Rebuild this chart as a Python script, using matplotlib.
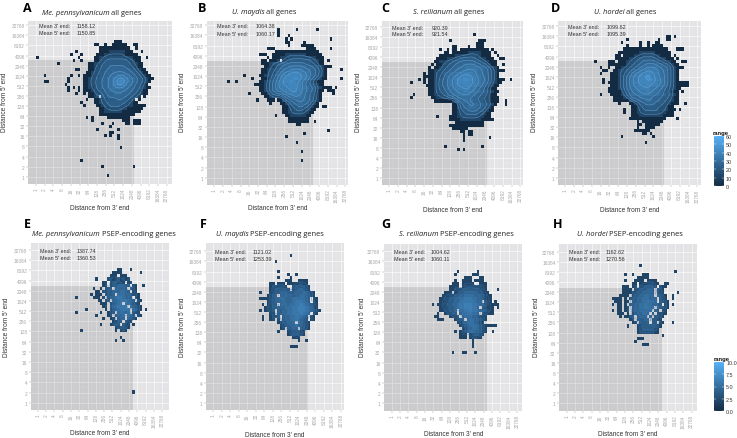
import numpy as np
import matplotlib
matplotlib.use('Agg')
import matplotlib.pyplot as plt
from matplotlib.colors import LinearSegmentedColormap, Normalize
from matplotlib.cm import ScalarMappable

W, H = 737, 439
BIN = 0.3   # width of one 2d bin, in log2 units
FILL = 0.72  # share of the colour range that the top digit reaches
GAMMA = 0.6

letters = ['A', 'B', 'C', 'D', 'E', 'F', 'G', 'H']
species = ['Me. pennsylvanicum', 'U. maydis', 'S. reilianum', 'U. hordei',
           'Me. pennsylvanicum', 'U. maydis', 'S. reilianum', 'U. hordei']
kinds = ['all genes'] * 4 + ['PSEP-encoding genes'] * 4
mean3 = ['1158.12', '1064.38', '920.39', '1099.62', '1387.74', '1121.02', '1004.62', '1162.62']
mean5 = ['1150.85', '1060.17', '921.54', '1095.39', '1360.53', '1253.39', '1060.11', '1270.56']
tick_labels = [str(2 ** i) for i in range(16)]

# shaded corner limits, log2 units
shade_x = [11.26, 11.26, 11.23, 11.2, 11.5, 11.16, 11.4, 11.4]
shade_y = [11.55, 11.5, 11.47, 11.53, 11.5, 11.5, 11.5, 11.44]

# Binned counts, one string per row from the top; digit = level in the colour range,
# '.' = empty bin. Each panel has a first column and a top row.
a_left, a_top = 18, 44
a_rows = [
    "............000",
    "....00..0..000000..00",
    "......000000000000..0",
    "......0000111111000...0",
    ".....0001111111100000",
    "....001122222222211000..0",
    "....001223333333322100",
    "..001122333333333322100",
    "..001223334444443322100",
    "..0012233444444444332100",
    ".001223344455555444332100",
    ".0012233445556665544332100",
    "001223344556778776554332100",
    "00122334455678987655433210",
    "0012233445567887655433210",
    "00112334455666665544332100",
    ".001223344555555544332100",
    "..00122334445554443322100",
    "..0012.334444444433221.0",
    "....0012233334433221.0",
    "....00122333333322100",
    ".....0012233332221100000",
    "......00112222211000000",
    "......0011111110000000",
    "......00000000000000",
    "..........00000000",
    "...............000.000",
    "................00.000",
]
a_stray_col = [0, 8, 3, 3, 4, 11, 12, 12, 13, 15, 17, 14, 17, 16, 15, 16, 13, 12, 12, 16, 18,
               14, 16, 16, 18, 15, 18, 17, 18, 19, 19, 21, 21, 25, 27, 29, 28, 23, 26, 28, 29,
               28, 31, 31, 31, 32, 17, 25, 37, 27]
a_stray_row = [39, 37, 33, 31, 31, 30, 29, 28, 40, 41, 40, 38, 38, 39, 35, 35, 33, 32, 31, 33, 33,
               29, 29, 28, 28, 27, 27, 24, 23, 25, 19, 19, 18, 17, 19, 17, 16, 15, 13, 13, 14,
               14, 13, 12, 15, 9, 5, 3, 3, 0]

b_left, b_top = 15, 44
b_rows = [
    "............00.....0",
    ".............0....00000",
    ".....000............0000.....0",
    "........00000000000000000",
    "..000..0000011111111000000",
    ".....0.00011122222222211000",
    "...00.0001.1223333333322100.0",
    "...000122334444444433322100",
    "....00112334455555554443321000",
    "...0012233455566666555443210.....0",
    "...0012234566778877665443210",
    "..00122345677888887765443210",
    "...0012345678889987765432100.....0",
    "..0012345678889877654321000",
    "000012345677788877654432100",
    "..0012345667778877665443210000.0",
    "..0012345566777877655443100.000",
    "...00123344566777665433210....0",
    "....0012222345566655443210",
    ".0...000.00233445555443210",
    "......0...001334455443210",
    "...........00123344332100.00",
    "...........0012233322100",
    "...........001122221100",
    "........0...0011111100",
    ".............00000000",
    ".............00000000..0",
    "................00",
]
b_stray_col = [31, 39, 24, 24, 24, 28, 27, 29, 44, 43, 34, 27, 31, 33, 33, 5, 8, 11, 14, 13]
b_stray_row = [48, 48, 48, 47, 46, 46, 45, 45, 45, 15, 14, 13, 11, 8, 5, 31, 31, 33, 32, 27]

c_left, c_top = 15, 45
c_rows = [
    "........0..........000",
    "..................000",
    ".........00....0..000",
    "....0..0.00.00000000000.0",
    "......00.000000111110000.0",
    "....00000011122222110000..0",
    "...0000111223333332211000..00",
    "..001112233444444433221000",
    ".0.00122334445555544332100..0",
    "0.0012233445556666655443210",
    "00112233445556666665544321000",
    "001223445566777776655443210",
    "001223455667788877665543210",
    "00123445667889988766554321000..0",
    "0012344566788888776655432100",
    "001234456677788877665432100",
    "00123345566777776654432100",
    "001223345566677766554432100",
    "00112234455666665544332100",
    ".00112233445555544433221000",
    "..0000000134455554433221000..0",
    ".........00234455554433210...0",
    ".........0023445554433210",
    ".........0012334444332100",
    ".........001223333322100",
    "........0001122222211000",
    "........00001111111100000",
    "..........00000000000",
    "........0000000000000",
    ".........000000",
    "............00.00",
    ".............0.00",
    ".............0.........0",
    ".............0",
]
c_stray_col = [32, 13, 13, 14, 11, 13, 8, 13, 14, 9, 8, 18, 21, 35, 26, 28]
c_stray_row = [47, 34, 33, 33, 32, 32, 31, 31, 30, 27, 26, 20, 10, 10, 9, 9]

d_left, d_top = 16, 46
d_rows = [
    "......................00.0",
    ".......0...........0..00",
    ".....0......0..0..00",
    ".......0....0..0.0000",
    "......00000000000000000...000",
    "....00000000111111000000",
    "...00.000011122222110000.0",
    "...0000011223333332211000.0",
    "000.0001122334444433221100..00",
    "000000012233445555544332100",
    "0..00112233455666665544321000",
    "..0012233455667777665543210",
    ".00012234566778887765543210",
    ".00012345677889987765543210",
    ".00012345667888998776543210",
    "0000123456778888877665432100000",
    ".000123456677788777665432100000",
    "0000123455667777666554322100",
    "000001234556667766554332100.0",
    ".00001234555666665554433210",
    "..0000123444555554443332100",
    "..0000002334445554443322100",
    "....0...0012334444333221000..0",
    ".........0012333333222100",
    "......0..00122333332221000.0",
    "......0..0011222222211000",
    ".........0001111111110000",
    "........00000000000000....0",
    "...........0.00000000",
    "...........00.000000",
    "...........0..0000",
    "..........000000",
    ".............00.0",
    ".....0...........0",
]
d_stray_col = [11, 13, 14, 15, 13, 14, 14, 13, 30]
d_stray_row = [38, 36, 35, 35, 34, 32, 31, 27, 11]

e_left, e_top = 19, 43
e_rows = [
    ".............11...1",
    "...........1111.......1",
    "..........111.111",
    "....1....221231212",
    ".......12.233221.12",
    ".......12.23344433.21..1",
    "...1..1.233.44443.321",
    "....11.22334445543.21",
    "..1.111.2334.555443221",
    "...111.2.3445665443.21",
    ".....11.23.445666543.21",
    "......111.23456.654321",
    ".......12.3456666.54321",
    "1.......1.23456666.5421.1",
    "......1..123.45545.321",
    "....1....12.3445.543.21",
    ".......1..12.344.4321",
    "...........1233.321",
    "......1...1233.321.1",
    "............123321",
    "............1.121",
    "",
    "..............1",
    "............1..1",
]
e_stray_col = [15, 15, 17, 38]
e_stray_row = [34, 29, 23, 3]

f_left, f_top = 18, 42
f_rows = [
    "...........1..1",
    ".......1....1",
    "..........111..1111",
    "....11.111.11112211",
    "....1222221..2333321",
    "....12333332.2344321",
    "1...123344433344454321",
    "...1234.44544344554321",
    "11112344554445555543.21",
    "...12344454445666543.21",
    ".1.1233.455455667654321",
    "..122334445556677765421",
    "1.1223.33445566777654321",
    "....12.3344556667654.21",
    ".1..1223.3445566543.21",
    ".1..12.2.3445565432.21",
    ".......1233445.54321",
    "........123344544321",
    "........12.3344.3321",
    ".......1...1233321",
    "...........1233321",
    ".............111",
    "...............1..1",
    "",
    "............111",
]
f_stray_col = [30, 24, 25]
f_stray_row = [48, 46, 43]

g_left, g_top = 16, 43
g_rows = [
    "..........1.......1",
    ".........1......111",
    ".............111...11",
    ".........1..1111.1111",
    "........111.11111..111",
    ".......1111.1222222211",
    ".......112223333333221....1",
    ".....111.12334444433211",
    "....11122334455554443211",
    "...112233445566655443211",
    "...11223344566666544.321.1",
    "1.1122334456677766544321111",
    "...1122334566777664.32111.1",
    "...1122334.55667665443211",
    "..1..12233.45566554.32111",
    ".11....1223.4555443221",
    "..111....1233.45544321",
    "..........12345554321",
    "...........123455543211111",
    "............1234554321",
    ".........1.12345544321..1",
    "...........111.123321",
    "...........111.12211",
    "................1",
    "................1",
    "................1",
    "",
    "........1...11...1",
]
g_stray_col = []
g_stray_row = []

h_left, h_top = 18, 45
h_rows = [
    "...........1",
    "",
    ".........................1",
    ".....1..1...111",
    "..........11111",
    ".....1...1111.1111",
    "........11.11122211..11",
    "....111.12.2233332.211",
    "....1111.22333443.321",
    "....1111223344443.321.....1",
    "...1111.233445544.4321..1",
    "1111.1.23344555444.321..1",
    ".111.11.3344556554.3321",
    "1.11.1.3344556554433.21.1",
    "..11.12.344556655.43321",
    "1.11.12.34455555.43.21",
    "..111.1.2344554.3.2211",
    "...1.1123.3444.4.3321",
    ".......12.33344.3321",
    "........12.3333.33.21...1",
    "......1...1233333321",
    "..........123333321",
    "..........122222211",
    "....................1",
    "..........111",
    ".........1",
    "............111",
]
h_stray_col = []
h_stray_row = []

panel_rows = [a_rows, b_rows, c_rows, d_rows, e_rows, f_rows, g_rows, h_rows]
panel_left = [a_left, b_left, c_left, d_left, e_left, f_left, g_left, h_left]
panel_top = [a_top, b_top, c_top, d_top, e_top, f_top, g_top, h_top]
stray_col = [a_stray_col, b_stray_col, c_stray_col, d_stray_col,
             e_stray_col, f_stray_col, g_stray_col, h_stray_col]
stray_row = [a_stray_row, b_stray_row, c_stray_row, d_stray_row,
             e_stray_row, f_stray_row, g_stray_row, h_stray_row]
stray_level = [0, 0, 0, 0, 1, 1, 1, 1]
range_max = [60, 60, 60, 60, 10, 10, 10, 10]

# layout, pixels: box left/right/top/bottom, x of tick "1", x of tick "32768", y of "32768", y of "1"
boxes = [
    (28.3, 171.7, 21.7, 185.0, 36.0, 166.7, 26.3, 177.7),
    (206.7, 348.0, 21.7, 185.7, 214.3, 345.3, 26.3, 178.7),
    (381.7, 523.0, 21.7, 185.7, 389.0, 520.3, 27.7, 179.3),
    (558.3, 700.7, 21.7, 186.0, 565.3, 697.3, 27.3, 178.7),
    (30.7, 169.0, 244.3, 410.7, 37.7, 162.3, 251.0, 403.7),
    (205.7, 344.0, 244.0, 410.7, 213.3, 341.0, 252.3, 404.0),
    (384.0, 522.3, 245.0, 411.7, 391.7, 517.0, 252.3, 404.0),
    (559.0, 696.7, 245.0, 411.7, 566.7, 691.7, 252.7, 404.3),
]
letter_xy = [(23, 8), (198, 8), (381, 8), (551, 8), (24, 224), (200, 224), (381.7, 224), (553, 224)]
title_xy = [(41.7, 15), (231.7, 14), (412.7, 14), (594, 14), (32.3, 236), (215.7, 236), (399.3, 236), (576.7, 236)]
mean_xy = [(39, 77, 26, 33.7), (216.7, 255.7, 26.7, 34), (391.7, 431.7, 28, 35), (568.3, 606.7, 27.7, 34.7),
           (40, 77, 251.7, 258.7), (215, 252.3, 252.3, 259.7), (394, 431, 252.7, 259.7), (568.7, 606, 252.7, 259.7)]
xlabel_xy = [(99.5, 209), (278, 209), (453, 211), (629.5, 211), (99.5, 434), (274.7, 435.7), (453.8, 435), (628, 435)]
ylabel_xy = [(5, 102), (183, 102), (358, 102), (535, 102), (7, 327), (182, 327), (362, 327), (536, 327)]

LOW, HIGH = '#132B43', '#56B1F7'
cmap = LinearSegmentedColormap.from_list('range', [LOW, HIGH])
plt.rcParams['font.family'] = ['Liberation Sans', 'DejaVu Sans']


def px_text(fig, x, y, s, **kw):
    return fig.text(x / W, 1 - y / H, s, **kw)


def level_value(level, vmax):
    return (np.asarray(level, dtype=float) / 9) ** GAMMA * vmax * FILL


def build_grid(i):
    grid = np.full((53, 53), np.nan)
    for k, row in enumerate(panel_rows[i]):
        for j, ch in enumerate(row):
            if ch != '.':
                grid[panel_top[i] - k, panel_left[i] + j] = level_value(int(ch), range_max[i])
    for c, r in zip(stray_col[i], stray_row[i]):
        grid[r, c] = level_value(stray_level[i], range_max[i])
    return grid


def smooth(grid):
    z = np.nan_to_num(grid)
    kern = np.array([1, 2, 1]) / 4
    z = np.apply_along_axis(lambda v: np.convolve(v, kern, mode='same'), 0, z)
    return np.apply_along_axis(lambda v: np.convolve(v, kern, mode='same'), 1, z)


def draw_panel(fig, i):
    left, right, top, bottom, x1, x15, y15, y1 = boxes[i]
    ax = fig.add_axes([left / W, 1 - bottom / H, (right - left) / W, (bottom - top) / H])
    ax.set_facecolor('#E3E3E5')
    ux = (x15 - x1) / 15
    uy = (y1 - y15) / 15
    x0, y0 = (left - x1) / ux, (y1 - bottom) / uy
    ax.set_xlim(x0, (right - x1) / ux)
    ax.set_ylim(y0, (y1 - top) / uy)

    ax.set_axisbelow(True)
    ax.set_xticks(range(16), tick_labels, rotation=90)
    ax.set_yticks(range(16), tick_labels)
    ax.set_xticks(np.arange(0.5, 15.5), minor=True)
    ax.set_yticks(np.arange(0.5, 15.5), minor=True)
    ax.grid(which='major', color='#FAFAFA', lw=0.5)
    ax.grid(which='minor', color='#EEEEF0', lw=0.3)
    ax.tick_params(which='major', length=1.5, width=0.3, color='#999999', labelsize=3.4,
                   labelcolor='#A6A6A6', pad=1)
    ax.tick_params(which='minor', length=0)
    for sp in ax.spines.values():
        sp.set_visible(False)

    ax.fill_between([x0, shade_x[i]], y0, shade_y[i], color='black', alpha=0.1, lw=0, zorder=1)

    grid = build_grid(i)
    edges = np.arange(54) * BIN
    vmax = range_max[i]
    ax.pcolormesh(edges, edges, np.ma.masked_invalid(grid), cmap=cmap, vmin=0,
                  vmax=vmax, zorder=2, rasterized=True)

    centres = (edges[:-1] + edges[1:]) / 2
    line_colour = '#7FB6E8' if vmax == 60 else '#3A74BE'
    ax.contour(centres, centres, smooth(grid), levels=level_value(np.arange(1.2, 9, 1.2), vmax),
               colors=line_colour, linewidths=0.35, alpha=0.7, zorder=3)
    return ax


def draw_title(fig, renderer, i):
    x, y = title_xy[i]
    t = px_text(fig, x, y, species[i], fontfamily='Open Sans', fontstyle='italic', fontsize=5.4,
                color='#222222', va='baseline')
    end = t.get_window_extent(renderer).x1
    px_text(fig, end + 1.6, y, kinds[i], fontfamily='Open Sans', fontsize=5.4, color='#222222',
            va='baseline')


def draw_bar(fig, top, bottom, left, vmax, ticks, fmt):
    cax = fig.add_axes([left / W, 1 - bottom / H, 10 / W, (bottom - top) / H])
    sm = ScalarMappable(norm=Normalize(0, vmax), cmap=cmap)
    cb = fig.colorbar(sm, cax=cax)
    cb.outline.set_visible(False)
    cb.set_ticks(ticks, labels=[fmt % v for v in ticks])
    cb.ax.tick_params(length=0, labelsize=3.9, labelcolor='#333333', pad=1.5)
    for v in ticks:
        cax.axhline(v, 0, 0.2, color='white', lw=0.3)
        cax.axhline(v, 0.8, 1, color='white', lw=0.3)
    px_text(fig, left - 0.5, top - 1, 'range', fontsize=4.2, fontweight='bold', color='#111111', va='bottom')


def main():
    fig = plt.figure(figsize=(W / 100, H / 100), dpi=100, facecolor='white')
    renderer = fig.canvas.get_renderer()
    for i in range(8):
        draw_panel(fig, i)
        px_text(fig, letter_xy[i][0], letter_xy[i][1], letters[i], fontfamily='Open Sans',
                fontweight='bold', fontsize=9, color='black', va='center')
        draw_title(fig, renderer, i)
        lx, vx, y1, y2 = mean_xy[i]
        for y, lab, val in ((y1, "Mean 3' end:", mean3[i]), (y2, "Mean 5' end:", mean5[i])):
            px_text(fig, lx, y, lab, fontsize=3.9, color='#333333', va='center')
            px_text(fig, vx, y, val, fontsize=3.9, color='#333333', va='center')
        px_text(fig, xlabel_xy[i][0], xlabel_xy[i][1], "Distance from 3' end", fontsize=4.7,
                color='#333333', ha='center', va='center')
        px_text(fig, ylabel_xy[i][0], ylabel_xy[i][1], "Distance from 5' end", fontsize=4.7,
                color='#333333', ha='center', va='center', rotation=90)

    draw_bar(fig, 137, 187, 713.5, 60, [0, 10, 20, 30, 40, 50, 60], '%d')
    draw_bar(fig, 363, 412, 714, 10, [0, 2.5, 5, 7.5, 10], '%.1f')
    fig.savefig('out.png', dpi=100)
    plt.close(fig)


main()
